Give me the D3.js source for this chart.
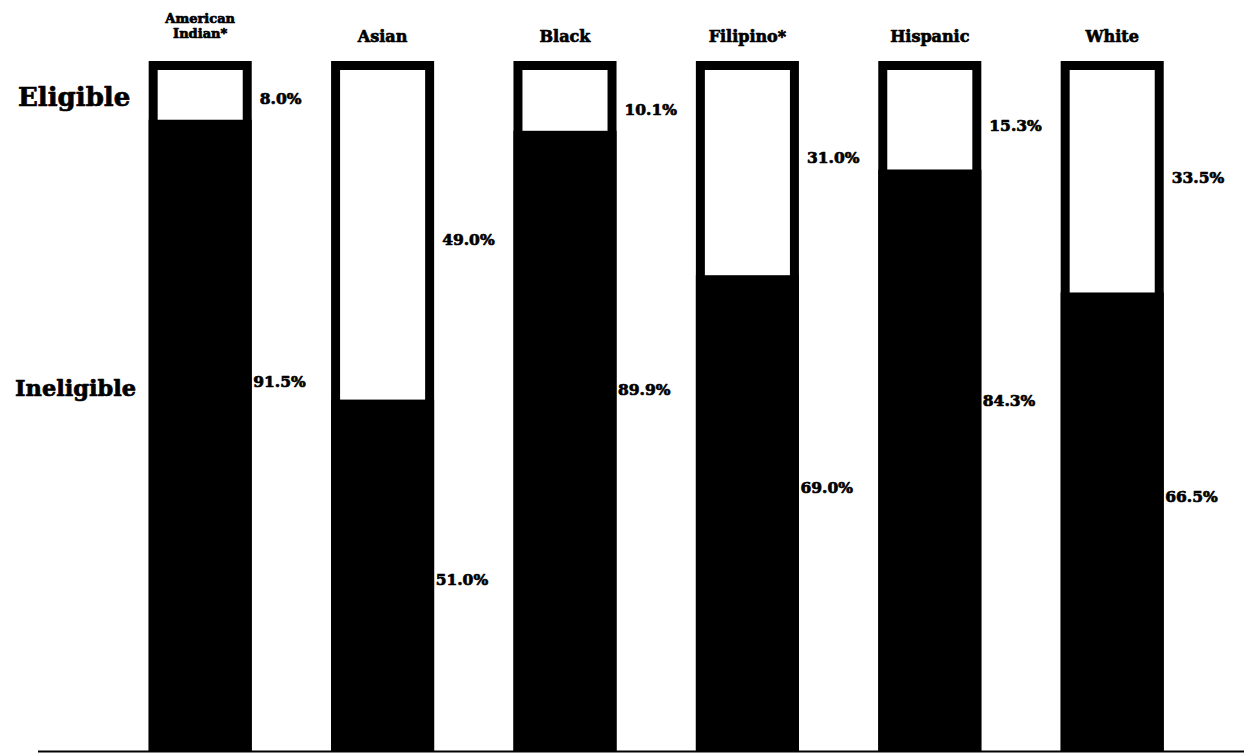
<!DOCTYPE html>
<html>
<head>
<meta charset="utf-8">
<script src="https://cdn.jsdelivr.net/npm/d3@7"></script>
<style>
  html, body { margin: 0; padding: 0; background: #fff; }
  svg { display: block; }
  text {
    font-family: "DejaVu Serif", "Liberation Serif", serif;
    font-weight: bold; fill: #000;
    stroke: #000; stroke-width: 0.7px; stroke-linejoin: round;
  }
</style>
</head>
<body>
<svg id="chart" width="1244" height="753"></svg>
<script>
// Eligibility by group, percent of graduates
const categories = ["American Indian*", "Asian", "Black", "Filipino*", "Hispanic", "White"];
const eligible   = [8.0, 49.0, 10.1, 31.0, 15.3, 33.5];
const ineligible = [91.5, 51.0, 89.9, 69.0, 84.3, 66.5];

// Where each value label sits along its bar (percent down from the bar top)
const eligibleLabelAt   = [5.5, 25.9, 7.1, 14.0, 9.3, 16.9];
const ineligibleLabelAt = [46.4, 75.1, 47.6, 61.8, 49.1, 63.1];

const svg = d3.select("#chart");
const W = 1244, H = 753;
const border = 9;

const x = d3.scaleBand()
  .domain(categories)
  .range([109, 1203.4])
  .paddingInner(0.435)
  .paddingOuter(0.2175);

// 0% at the baseline, 100% at the top of each bar
const y = d3.scaleLinear().domain([0, 100]).range([752, 61]);
// percent measured down from the top of a bar
const yDown = d3.scaleLinear().domain([0, 100]).range([61, 752]);

const rows = categories.map((c, i) => ({
  cat: c, elig: eligible[i], inel: ineligible[i],
  eAt: eligibleLabelAt[i], iAt: ineligibleLabelAt[i]
}));

const g = svg.append("g");

// bar outline: white box with heavy black border
g.selectAll("rect.outline").data(rows).join("rect")
  .attr("class", "outline")
  .attr("x", d => x(d.cat) + border / 2)
  .attr("y", y(100) + border / 2)
  .attr("width", x.bandwidth() - border)
  .attr("height", y(0) - y(100) - border)
  .attr("fill", "#fff")
  .attr("stroke", "#000")
  .attr("stroke-width", border);

// ineligible share, solid black from the baseline up
g.selectAll("rect.inel").data(rows).join("rect")
  .attr("class", "inel")
  .attr("x", d => x(d.cat))
  .attr("y", d => y(d.inel))
  .attr("width", x.bandwidth())
  .attr("height", d => y(0) - y(d.inel))
  .attr("fill", "#000");

// baseline
svg.append("line")
  .attr("x1", 38).attr("x2", W)
  .attr("y1", 751.5).attr("y2", 751.5)
  .attr("stroke", "#000").attr("stroke-width", 2);

// value labels to the right of each bar
const fmt = v => v.toFixed(1) + "%";
g.selectAll("text.elab").data(rows).join("text")
  .attr("class", "elab")
  .attr("x", d => x(d.cat) + x.bandwidth() + 8)
  .attr("y", d => yDown(d.eAt))
  .attr("dy", "0.35em")
  .attr("font-size", 15.5)
  .text(d => fmt(d.elig));

g.selectAll("text.ilab").data(rows).join("text")
  .attr("class", "ilab")
  .attr("x", d => x(d.cat) + x.bandwidth() + 1.5)
  .attr("y", d => yDown(d.iAt))
  .attr("dy", "0.35em")
  .attr("font-size", 15.5)
  .text(d => fmt(d.inel));

// group names above the bars
const heads = svg.append("g").selectAll("text.head").data(rows).join("text")
  .attr("class", "head")
  .attr("x", d => x(d.cat) + x.bandwidth() / 2)
  .attr("text-anchor", "middle");
heads.each(function(d) {
  const parts = d.cat.split(" ");
  const t = d3.select(this);
  const cx = x(d.cat) + x.bandwidth() / 2;
  if (parts.length > 1) {
    t.attr("font-size", 13);
    t.append("tspan").attr("x", cx).attr("y", 23).text(parts[0]);
    t.append("tspan").attr("x", cx).attr("y", 38).text(parts.slice(1).join(" "));
  } else {
    t.attr("font-size", 16).attr("y", 42).text(d.cat);
  }
});

// row captions on the left
svg.append("text").attr("x", 18).attr("y", 97).attr("dy", "0.35em")
  .attr("font-size", 26).text("Eligible");
svg.append("text").attr("x", 15).attr("y", 388).attr("dy", "0.35em")
  .attr("font-size", 22.5).text("Ineligible");
</script>
</body>
</html>
